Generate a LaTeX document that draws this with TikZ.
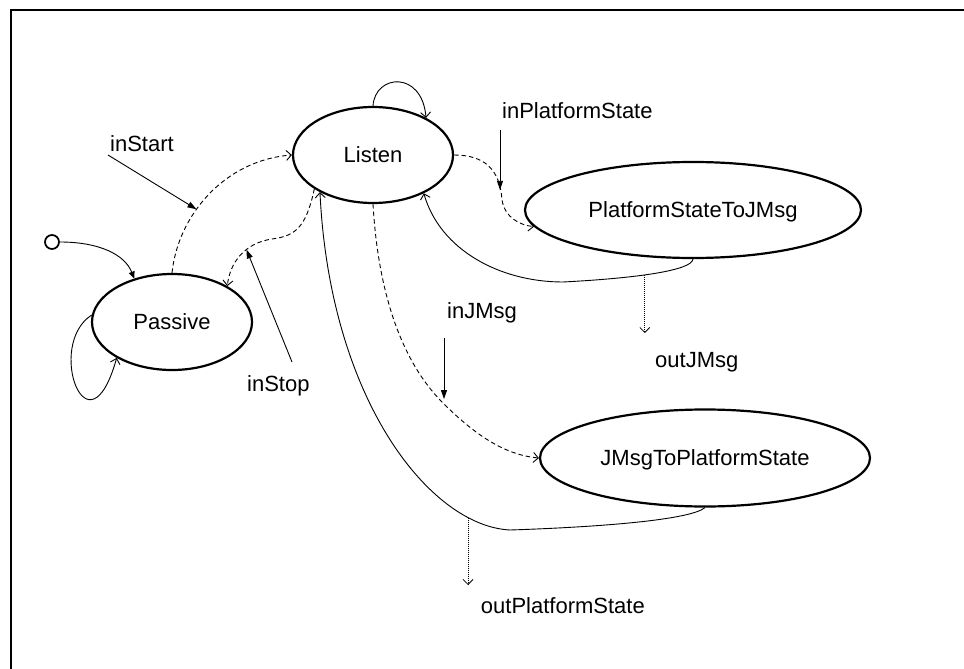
\documentclass[tikz,border=0pt]{standalone}
\usepackage{fontspec}
\setmainfont{Liberation Sans}
\usetikzlibrary{arrows.meta,shapes.geometric}
\begin{document}
\begin{tikzpicture}[x=1pt,y=-1pt,
  txt/.style={font=\fontsize{22}{26}\selectfont},
  state/.style={ellipse, draw, line width=2.2pt, inner sep=0pt, text depth=0pt, txt},
  lbl/.style={inner sep=0pt, anchor=base west, txt},
  trans/.style={line width=0.9pt, -{Straight Barb[length=5pt,width=10pt,line width=0.9pt]}},
  evt/.style={line width=0.9pt, -{Triangle[length=9pt,width=6pt]}},
  outp/.style={line width=0.8pt, dash pattern=on 1pt off 1pt,
               -{Straight Barb[length=5pt,width=10pt,line width=0.8pt]}},
  dsh/.style={dash pattern=on 4.5pt off 3pt}]
\useasboundingbox (0,0) rectangle (964,669);

% frame (only its top and left edges fall inside the page)
\draw[line width=2pt] (11,669) -- (11,10) -- (964,10);

% states
\node[circle, draw, line width=1.7pt, minimum size=14pt, inner sep=0pt] (init) at (52,242) {};
\node[state, minimum width=160pt, minimum height=96pt] (passive) at (172,322) {Passive};
\node[state, minimum width=160pt, minimum height=96pt] (listen) at (373,155) {Listen};
\node[state, minimum width=336pt, minimum height=96pt] (pstj) at (693,210) {PlatformStateToJMsg};
\node[state, minimum width=330pt, minimum height=97pt] (jmps) at (705,458) {JMsgToPlatformState};

% event and output labels
\node[lbl] (lStart) at (110,151) {inStart};
\node[lbl] (lStop) at (247,391) {inStop};
\node[lbl] (lPS) at (502,118) {inPlatformState};
\node[lbl] (lJM) at (447,318) {inJMsg};
\node[lbl] (lOutJ) at (655,367) {outJMsg};
\node[lbl, anchor=base east] (lOutP) at (645,613) {outPlatformState};

% initial transition and self loops
\draw[line width=0.9pt, -{Triangle[length=7pt,width=6pt]}]
  (init.east) .. controls (100,242) and (125,255) .. (passive.131);
\draw[trans] (passive.175) .. controls (45,345) and (88,460) .. (passive.213);
\draw[trans] (listen.north) .. controls (375,74) and (422,70) .. (listen.35);

% Passive -> Listen (inStart)
\draw[trans, dsh] (passive.north) .. controls (178,215) and (225,160) ..
  coordinate[pos=0.39] (tStart) (listen.west);
% Listen -> Passive (inStop)
\draw[trans, dsh] (listen.210) .. controls (306,228) and (295,236) .. (272,239)
  .. controls (245,243) and (230,262) .. coordinate[pos=0.38] (tStop) (passive.33);

% Listen -> PlatformStateToJMsg and back
\draw[trans, dsh] (listen.east) .. controls (485,155) and (500,170) ..
  coordinate[pos=0.88] (tPS) (502,200) .. controls (505,218) and (520,225) .. (pstj.186);
\draw[trans] (pstj.south) .. controls (692,270) and (640,278) ..
  coordinate[pos=0.58] (oJ) (563,282) .. controls (500,282) and (440,250) .. (listen.-37);

% Listen -> JMsgToPlatformState and back
\draw[trans, dsh] (listen.south) .. controls (378,290) and (400,360) ..
  coordinate[pos=0.97] (tJM) (443,403) .. controls (475,435) and (505,455) .. (jmps.west);
\draw[trans] (jmps.south) .. controls (690,520) and (600,527) .. (510,530)
  .. controls (430,526) and (330,400) .. coordinate[pos=0.17] (oP) (listen.215);

% event arrows
\coordinate (sStart) at (108,155);
\coordinate (sStop) at (292,362);
\coordinate (sPS) at (500,130);
\coordinate (sJM) at (444,338);
\draw[evt] (sStart) -- (tStart);
\draw[evt] (sStop) -- (tStop);
\draw[evt] (sPS) -- (sPS |- tPS);
\draw[evt] (sJM) -- (sJM |- tJM);

% output arrows
\coordinate (eOutJ) at (645,333);
\coordinate (eOutP) at (468,585);
\draw[outp] (oJ) -- (oJ |- eOutJ);
\draw[outp] (oP) -- (oP |- eOutP);
\end{tikzpicture}
\end{document}
